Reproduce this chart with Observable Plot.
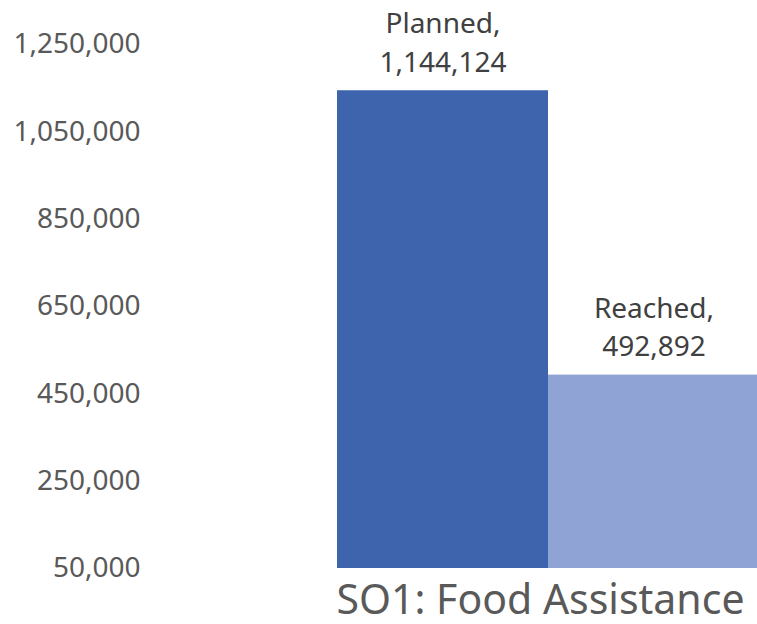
<!DOCTYPE html>
<html>
<head>
<meta charset="utf-8">
<script src="https://cdn.jsdelivr.net/npm/d3@7"></script>
<script src="https://cdn.jsdelivr.net/npm/@observablehq/plot@0.6"></script>
<style>
  html, body { margin: 0; padding: 0; background: #fff; overflow: hidden; }
</style>
</head>
<body>
<div id="chart"></div>
<script>
const category = "SO1: Food Assistance";
const series = ["Planned", "Reached"];
const values = [1144124, 492892];
const colors = ["#3F64AE", "#8FA3D4"];
const yTicks = [50000, 250000, 450000, 650000, 850000, 1050000, 1250000];

const data = series.map((s, i) => ({series: s, value: values[i], category}));
const fmt = d3.format(",");
const font = "'Noto Sans', 'Open Sans', sans-serif";

const chart = Plot.plot({
  width: 757,
  height: 624,
  marginLeft: 337,
  marginRight: -2,
  marginTop: 44,
  marginBottom: 56,
  style: {fontFamily: font, background: "#fff", overflow: "visible"},
  x: {domain: series, padding: 0, axis: null},
  y: {domain: [yTicks[0], yTicks[yTicks.length - 1]], axis: null},
  color: {domain: series, range: colors},
  marks: [
    Plot.barY(data, {x: "series", y1: yTicks[0], y2: "value", fill: "series"}),
    Plot.axisY(yTicks, {
      anchor: "left", tickSize: 0, tickPadding: 197,
      tickFormat: fmt, fontSize: 28, fill: "#595959", label: null
    }),
    Plot.text(data, {
      x: "series", y: "value",
      text: d => `${d.series},\n${fmt(d.value)}`,
      lineAnchor: "bottom", lineHeight: 1.37, dy: -19,
      fontSize: 28, fill: "#404040"
    }),
    Plot.text([category], {
      frameAnchor: "bottom", lineAnchor: "bottom", dy: 45, dx: -8,
      text: d => d, fontSize: 41, fill: "#595959"
    })
  ]
});
document.getElementById("chart").appendChild(chart);
</script>
</body>
</html>
